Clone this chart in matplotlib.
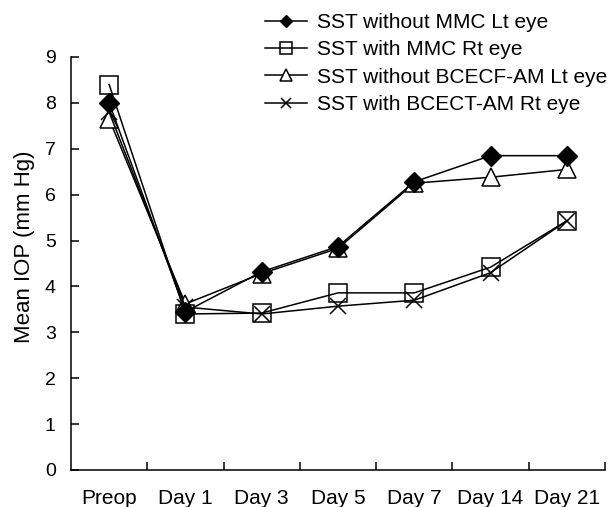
import numpy as np
import matplotlib.pyplot as plt

plt.rcParams['font.family'] = ['Liberation Sans', 'DejaVu Sans']

# categories and mean IOP values
days = ['Preop', 'Day 1', 'Day 3', 'Day 5', 'Day 7', 'Day 14', 'Day 21']
mmc_lt = [8.0, 3.45, 4.32, 4.87, 6.28, 6.85, 6.85]
mmc_rt = [8.4, 3.4, 3.42, 3.86, 3.86, 4.42, 5.43]
bcecf_lt = [7.65, 3.62, 4.28, 4.83, 6.25, 6.38, 6.55]
bcect_rt = [7.8, 3.55, 3.4, 3.57, 3.7, 4.3, 5.43]

labels = ['SST without MMC Lt eye', 'SST with MMC Rt eye',
          'SST without BCECF-AM Lt eye', 'SST with BCECT-AM Rt eye']

fig = plt.figure(figsize=(6.14, 5.07), dpi=100)
ax = fig.add_axes([71/614, 37/507, 534/614, 413/507])

x = np.arange(len(days))
lw = 1.1
ax.plot(x, bcect_rt, color='k', lw=lw, marker='x', ms=11, mew=1.1,
        label=labels[3], clip_on=False, zorder=3)
ax.plot(x, bcecf_lt, color='k', lw=lw, marker='^', ms=13, mfc='white', mec='k',
        mew=1.1, label=labels[2], clip_on=False, zorder=2)
ax.plot(x, mmc_rt, color='k', lw=lw, marker='s', ms=13, mfc='none', mec='k',
        mew=1.1, label=labels[1], clip_on=False, zorder=4)
ax.plot(x, mmc_lt, color='k', lw=lw, marker='D', ms=10, mfc='k', mec='k',
        label=labels[0], clip_on=False, zorder=5)

ax.set_xlim(-0.5, len(days) - 0.5)
ax.set_ylim(0, 9)
ax.set_xticks(x)
ax.set_xticklabels(days)
ax.set_xticks(x + 0.5, minor=True)
ax.tick_params(axis='x', which='major', length=0, pad=14, labelsize=15)
ax.tick_params(axis='x', which='minor', direction='in', length=6, width=1.1)
ax.set_yticks(range(0, 10))
ax.tick_params(axis='y', direction='in', length=6, width=1.1, pad=11, labelsize=14)

for s in ['top', 'right']:
    ax.spines[s].set_visible(False)
for s in ['left', 'bottom']:
    ax.spines[s].set_linewidth(1.1)

ax.set_ylabel('Mean IOP (mm Hg)', fontsize=16)
ax.yaxis.set_label_coords(-0.067, 0.54)

h, l = ax.get_legend_handles_labels()
fig.legend(h[::-1], l[::-1], loc='upper left', bbox_to_anchor=(265/614, 1 - 13/507),
           frameon=False, fontsize=15, handlelength=2.0, handletextpad=0.5,
           labelspacing=0.4, borderpad=0, borderaxespad=0, markerscale=0.65)

fig.savefig('out.png', dpi=100)
